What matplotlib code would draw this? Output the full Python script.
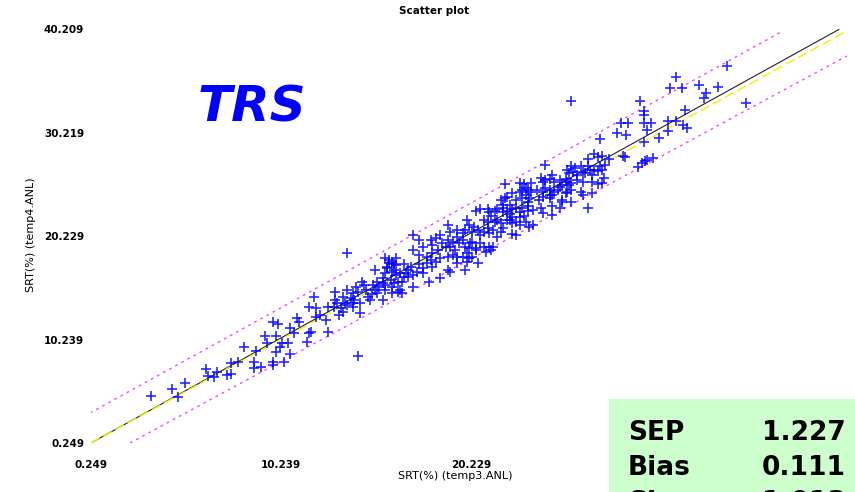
import matplotlib
matplotlib.use("Agg")
import matplotlib.pyplot as plt
from matplotlib.patches import Rectangle

# reference (temp3) vs predicted (temp4) SRT values
ref_srt = [
    3.4, 4.5, 4.8, 5.2, 6.3, 6.4, 6.7, 6.9, 7.4, 7.6, 7.6, 8.0, 8.3, 8.8, 8.8, 9.2, 8.9, 9.4, 9.5, 9.8,
    9.8, 9.8, 10.0, 10.1, 10.0, 10.2, 10.4, 10.3, 10.6, 10.7, 10.7, 10.9, 11.1, 11.2, 11.6, 11.7, 11.8, 11.7, 12.1, 12.1,
    12.3, 12.7, 12.6, 13.0, 13.3, 13.5, 14.3, 14.4, 13.7, 14.0,
    13.7, 12.0, 12.7, 13.1, 13.1, 13.2, 13.4, 13.5, 13.6, 13.7, 13.9, 14.0, 14.0, 14.1, 14.2, 14.3, 14.4, 14.5, 14.6, 14.7,
    14.8, 14.9, 15.0, 15.1, 15.2, 15.3, 15.2, 15.3, 15.4, 15.6, 15.6, 15.7, 15.8, 15.7, 15.9, 16.0, 16.1, 16.1, 16.2, 16.3,
    16.5, 16.6, 16.7, 16.8, 16.9, 16.9,
    15.7, 15.9, 16.1, 16.3, 15.8, 16.2, 16.5, 15.6, 16.2, 16.4, 15.7, 16.7, 17.1, 17.2, 17.4, 17.5, 17.7, 17.9, 18.1, 18.2,
    18.4, 17.2, 16.4, 16.1, 16.6, 17.7, 18.0, 18.6, 19.0, 19.1, 19.5, 19.8, 20.1, 19.5, 20.0, 20.5, 20.6, 21.2, 21.3, 19.9,
    22.0, 23.0, 23.1, 22.4, 22.8, 22.0, 21.8, 23.2, 23.2, 22.9, 20.5, 20.7, 21.1, 21.2, 21.3, 21.5, 21.6, 21.9, 21.9, 22.1,
    22.3, 22.4, 22.6, 22.8, 23.0, 23.2, 20.9, 21.1, 21.5, 21.6, 21.8, 22.3, 22.4, 22.6, 22.8, 19.0, 19.1, 20.0, 20.1, 19.9,
    19.5, 19.8, 20.3, 20.4, 20.6, 20.7, 20.9, 21.1, 21.2, 21.4, 21.6, 21.8, 21.9, 22.6, 17.2, 17.5, 17.7, 17.2, 18.1, 18.2,
    18.4, 18.5, 18.6, 18.7, 18.9, 19.0, 19.1, 19.3, 19.4, 19.5, 19.6, 19.8, 19.9, 20.1, 20.2, 20.3, 20.5, 20.7, 20.9, 21.0,
    21.4, 17.5, 17.9, 18.2, 18.6, 19.0, 19.3, 20.0, 20.3, 16.3,
    29.3, 29.3, 28.1, 28.5, 27.9, 28.4, 27.0, 29.5, 28.3, 26.4, 26.7, 26.9, 27.1, 24.1, 25.5, 25.7, 26.0, 26.4, 26.5, 27.0,
    27.3, 27.1, 26.9, 29.0, 29.2, 25.3, 25.4, 25.6, 25.8, 26.1, 26.2, 26.6, 26.7, 27.2, 23.9, 24.0, 24.1, 24.4, 24.6, 24.9,
    25.2, 25.3, 25.5, 25.8, 26.1, 26.6, 26.9, 22.8, 22.9, 23.2, 23.4, 23.7, 24.0, 24.1, 24.4, 24.6, 24.8, 25.3, 25.5, 26.0,
    26.1, 22.1, 22.6, 22.9, 23.3, 23.8, 24.0, 24.4, 24.5, 25.0, 23.5, 23.9, 24.0, 24.5, 26.4, 22.4, 22.8,
    27.1, 27.5, 28.2, 29.4, 29.8, 25.0, 24.5, 24.4, 24.9, 25.2, 25.4, 26.6, 25.5, 25.0, 24.5, 24.9, 23.4, 23.1, 21.9, 22.3,
    22.1, 23.1, 23.5, 23.3, 22.4,
    33.7, 31.0, 32.2, 33.2, 30.7, 31.3, 32.6, 32.5, 29.1, 34.7, 29.3, 31.5, 29.7, 30.6, 31.0, 31.4, 31.6, 29.5, 30.6, 30.1,
    29.3, 25.5,
]
pred_srt = [
    4.8, 5.5, 4.7, 6.0, 7.4, 6.7, 6.6, 7.1, 6.8, 6.9, 8.0, 8.1, 9.5, 8.1, 7.5, 7.6, 9.1, 10.6, 9.9, 11.9,
    8.1, 7.8, 10.6, 11.7, 9.0, 9.5, 8.1, 9.9, 9.9, 8.8, 11.4, 10.9, 12.3, 11.9, 10.0, 10.9, 11.0, 13.4, 13.3, 12.4,
    12.6, 11.0, 12.1, 13.4, 12.6, 12.9, 8.7, 12.8, 13.6, 13.8,
    18.6, 14.4, 13.4, 14.8, 14.1, 13.8, 13.3, 14.4, 13.8, 15.0, 14.3, 13.4, 14.7, 14.1, 15.3, 14.8, 13.8, 15.8, 15.5, 15.0,
    14.4, 14.1, 14.6, 15.5, 15.0, 15.8, 17.0, 14.7, 15.3, 14.1, 15.7, 16.7, 17.3, 15.0, 17.9, 16.0, 16.8, 15.3, 17.5, 16.5,
    15.0, 15.8, 17.5, 16.7, 16.3, 17.0,
    18.1, 17.6, 17.7, 17.4, 17.2, 17.0, 16.7, 16.2, 15.7, 15.8, 15.5, 16.3, 17.3, 16.5, 16.8, 17.5, 17.2, 17.6, 17.9, 17.3,
    17.7, 15.3, 14.8, 14.7, 14.7, 16.7, 15.8, 16.2, 17.0, 16.8, 18.2, 18.2, 18.1, 17.6, 17.7, 19.1, 17.6, 19.2, 18.9, 17.0,
    25.3, 25.3, 24.9, 24.4, 24.5, 23.9, 23.7, 23.5, 23.1, 23.0, 22.7, 22.9, 22.9, 22.6, 22.2, 22.7, 22.9, 22.6, 23.0, 22.7,
    22.4, 22.9, 23.0, 22.6, 22.2, 22.7, 21.8, 21.6, 21.6, 21.8, 21.5, 21.8, 21.5, 21.6, 21.3, 21.3, 20.6, 21.8, 21.3, 20.8,
    20.8, 20.5, 20.6, 21.1, 20.8, 20.3, 20.6, 21.0, 20.5, 20.8, 20.2, 20.6, 21.0, 20.3, 20.3, 19.9, 19.2, 18.9, 19.9, 19.4,
    20.1, 18.9, 20.3, 19.6, 19.2, 19.9, 19.2, 19.7, 18.9, 20.2, 19.6, 19.9, 19.2, 19.1, 19.6, 19.7, 18.9, 19.6, 19.2, 18.7,
    19.2, 18.4, 18.2, 18.6, 18.1, 18.2, 18.4, 18.6, 18.2, 18.1,
    31.9, 31.2, 31.2, 31.2, 30.2, 30.0, 29.6, 27.6, 27.9, 27.7, 28.2, 27.9, 28.0, 27.1, 27.0, 26.8, 27.0, 27.0, 26.6, 27.0,
    27.1, 26.6, 26.5, 26.9, 27.3, 26.6, 26.3, 26.4, 26.1, 26.4, 26.3, 26.1, 26.6, 25.9, 25.9, 25.5, 25.7, 25.8, 25.5, 25.7,
    25.8, 25.5, 25.4, 25.7, 25.5, 25.5, 25.3, 25.4, 24.7, 24.7, 24.5, 24.7, 24.5, 24.9, 24.7, 24.5, 24.7, 24.5, 24.7, 24.5,
    24.2, 24.0, 23.7, 23.9, 23.9, 23.7, 24.0, 23.9, 24.2, 23.7, 22.8, 23.0, 22.5, 22.3, 23.0, 22.1, 22.1,
    25.4, 27.7, 28.0, 27.5, 27.8, 25.2, 26.1, 24.2, 25.0, 24.4, 25.2, 24.4, 23.5, 23.5, 23.1, 23.0, 25.4, 24.2, 23.2, 23.2,
    21.8, 21.6, 21.3, 21.1, 20.4,
    36.7, 35.6, 34.8, 34.6, 34.5, 34.5, 34.1, 33.6, 33.3, 33.1, 32.3, 32.4, 31.2, 31.4, 31.4, 31.0, 30.7, 30.5, 30.4, 29.7,
    29.3, 33.3,
]

# line end points (x list, y list)
fit_x, fit_y = [0.249, 39.57], [0.249, 40.2]
target_x, target_y = [0.249, 40.0], [0.249, 40.06]
upper_x, upper_y = [0.20, 36.63], [3.15, 40.06]
lower_x, lower_y = [2.30, 39.99], [0.249, 37.64]

y_tick_vals = [0.249, 10.239, 20.229, 30.219, 40.209]
y_tick_labels = ["0.249", "10.239", "20.229", "30.219", "40.209"]
# the two right-hand x labels sit under the stats box
x_tick_vals = [0.249, 10.239, 20.229]
x_tick_labels = ["0.249", "10.239", "20.229"]

stat_names = ["SEP", "Bias", "Slope"]
stat_vals = ["1.227", "0.111", "1.013"]

W, H = 855, 492
fig = plt.figure(figsize=(W / 100, H / 100), dpi=100)
ax = fig.add_axes([91 / W, 49 / H, 760 / W, 413.6 / H])
ax.set_xlim(0.249, 40.209)
ax.set_ylim(0.249, 40.209)
for s in ax.spines.values():
    s.set_visible(False)

ax.plot(upper_x, upper_y, color="#ff44ff", lw=1.0, dashes=(2, 3))
ax.plot(lower_x, lower_y, color="#ff44ff", lw=1.0, dashes=(2, 3))
ax.plot(fit_x, fit_y, color="#222222", lw=0.8)
ax.plot(target_x, target_y, color="#f2f200", lw=1.0, dashes=(7, 3))
ax.plot(ref_srt, pred_srt, "+", color="#0000ff", ms=6.5, mew=1.2, alpha=0.85, ls="none")

ax.set_xticks(x_tick_vals)
ax.set_xticklabels(x_tick_labels)
ax.set_yticks(y_tick_vals)
ax.set_yticklabels(y_tick_labels)
ax.tick_params(axis="both", length=0, labelsize=7.5)
ax.tick_params(axis="y", pad=5)
ax.tick_params(axis="x", pad=12)
for lab in ax.get_xticklabels() + ax.get_yticklabels():
    lab.set_fontweight("bold")

ax.set_xlabel("SRT(%) (temp3.ANL)", fontsize=8)
ax.xaxis.set_label_coords(0.479, -0.08)
ax.xaxis.label.set_va("center")
ax.set_ylabel("SRT(%) (temp4.ANL)", fontsize=8)
ax.yaxis.set_label_coords(-0.079, 0.503)
ax.yaxis.label.set_va("center")

fig.text(434 / W, 1 - 11 / H, "Scatter plot", ha="center", va="center",
         fontsize=7.5, fontweight="bold")
fig.text(198 / W, 1 - 122 / H, "TRS", ha="left", va="baseline", color="#0000ff",
         fontsize=36, fontweight="bold", style="italic")

fig.add_artist(Rectangle((609 / W, 0), (W - 609) / W, 93 / H, transform=fig.transFigure,
                         facecolor="#ccffcc", edgecolor="none", zorder=5))
# third row is cut by the bottom edge, as in the original
for i, (name, val) in enumerate(zip(stat_names, stat_vals)):
    yb = 1 - (440 + 35 * i) / H
    fig.text(628 / W, yb, name, ha="left", va="baseline", fontsize=19,
             fontweight="bold", zorder=6)
    fig.text(846 / W, yb, val, ha="right", va="baseline", fontsize=19,
             fontweight="bold", zorder=6)

fig.savefig("out.png", dpi=100)
